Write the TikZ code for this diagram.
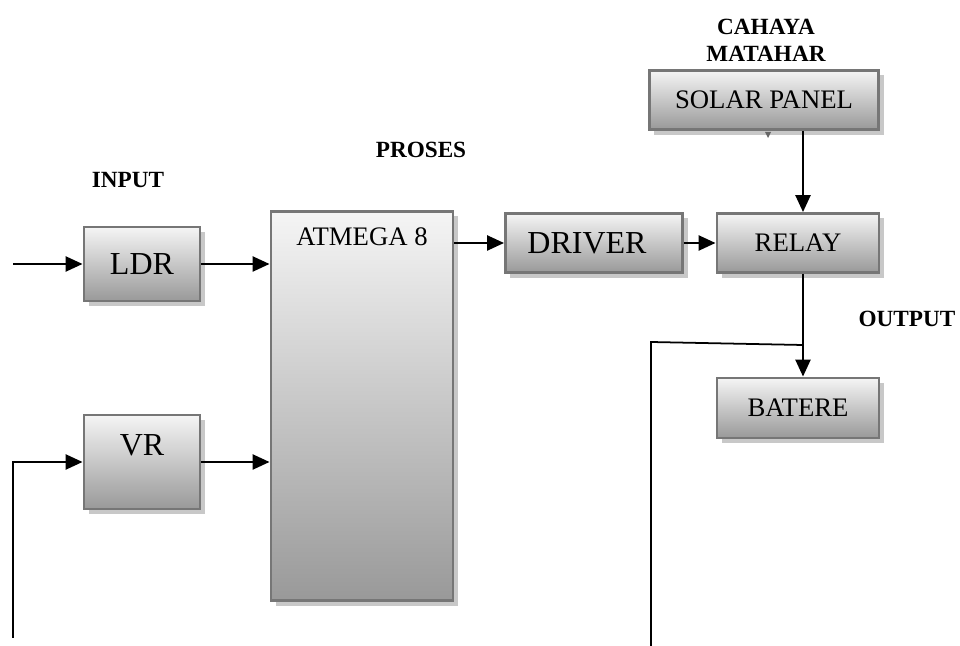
\documentclass[tikz,border=0pt]{standalone}
\usepackage{fontspec}
\setmainfont{Liberation Serif}
\usepackage{tikz}
\usetikzlibrary{arrows.meta,shadows}
\definecolor{boxline}{RGB}{118,118,118}
\definecolor{boxshadow}{RGB}{200,200,200}
\tikzset{
  blok/.style={
    draw=boxline,
    line width=0.8pt,
    top color=white!96!black,
    bottom color=black!40,
    drop shadow={shadow xshift=0.05cm, shadow yshift=-0.05cm, fill=boxshadow, opacity=1},
    inner sep=0pt,
    font=\fontsize{9.1}{11}\selectfont
  },
  blok small/.style={
    blok,
    font=\fontsize{7.6}{9}\selectfont
  },
  tag/.style={
    font=\fontsize{6.6}{7.6}\selectfont\bfseries,
    align=center,
    inner sep=0pt
  },
  arrow/.style={
    -{Triangle[length=0.17cm,width=0.15cm]},
    line width=0.7pt
  },
  wire/.style={
    line width=0.5pt
  }
}
\begin{document}
\begin{tikzpicture}[x=0.01cm, y=-0.01cm]
  \useasboundingbox (0,0) rectangle (960,646);

  % Input blocks
  \node[blok, minimum width=1.16cm, minimum height=0.74cm] (LDR) at (142,264) {LDR};
  \node[blok, minimum width=1.16cm, minimum height=0.94cm,
        label={[anchor=base, yshift=-0.42cm, font=\fontsize{9.1}{11}\selectfont]north:VR}] (VR) at (142,462) {};

  % Controller
  \node[blok, minimum width=1.82cm, minimum height=3.89cm,
        label={[anchor=base, yshift=-0.36cm, font=\fontsize{7.6}{9}\selectfont]north:ATMEGA 8}] (ATMEGA) at (362,406) {};

  % Output blocks
  \node[blok, minimum width=1.77cm, minimum height=0.59cm,
        label={[xshift=-0.07cm, font=\fontsize{9.1}{11}\selectfont]center:DRIVER}] (DRIVER) at (594,243) {};
  \node[blok small, minimum width=1.62cm, minimum height=0.59cm] (RELAY) at (798,243) {RELAY};
  \node[blok small, minimum width=2.29cm, minimum height=0.59cm] (SOLAR) at (764,100) {SOLAR PANEL};
  \node[blok small, minimum width=1.62cm, minimum height=0.60cm] (BATERE) at (798,408) {BATERE};

  % Labels
  \node[tag, anchor=base] (lblInput) at (128,188) {INPUT};
  \node[tag, anchor=base] (lblProses) at (421,158) {PROSES};
  \node[tag, anchor=base] (lblOutput) at (907,327) {OUTPUT};
  \node[tag] (lblSun) at (766,40) {CAHAYA\\MATAHAR};

  % Connections
  \coordinate (inLDR) at (13,264);
  \coordinate (inVR) at (13,638);
  \draw[arrow] (inLDR) -- (LDR.west);
  \draw[arrow] (inVR) |- (VR.west);
  \draw[arrow] (LDR.east) -- (ATMEGA.west |- LDR.east);
  \draw[arrow] (VR.east) -- (ATMEGA.west |- VR.east);
  \draw[arrow] (ATMEGA.east |- DRIVER.west) -- (DRIVER.west);
  \draw[arrow] (DRIVER.east) -- (RELAY.west);
  \draw[arrow] ([xshift=0.05cm]SOLAR.south -| RELAY.north) -- ([xshift=0.05cm]RELAY.north);
  \draw[arrow] ([xshift=0.05cm]RELAY.south) -- ([xshift=0.05cm]BATERE.north);
  \fill[black!60] (765,132) -- (771,132) -- (768,138) -- cycle;

  % Feedback wire
  \coordinate (tap) at (803,345);
  \coordinate (fbEnd) at (651,646);
  \draw[wire] (tap) -- (651,342) -- (fbEnd);
\end{tikzpicture}
\end{document}
